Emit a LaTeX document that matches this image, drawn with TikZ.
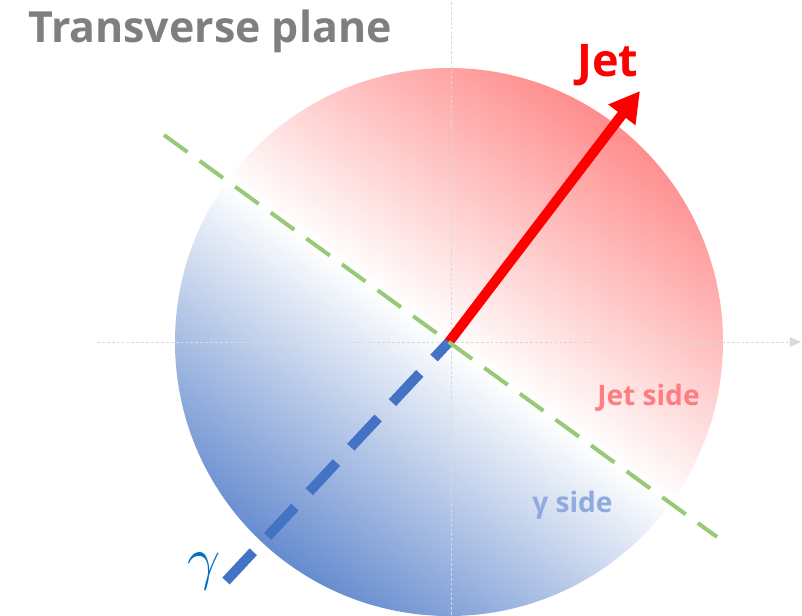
\RequirePackage{fix-cm}
\documentclass[tikz,border=0pt]{standalone}
\usepackage{fontspec}
\setmainfont{Open Sans}
\usepackage{tikz}
\usetikzlibrary{arrows.meta,calc}
\usepackage{xcolor}

\definecolor{jetred}{RGB}{255,0,0}
\definecolor{jetpink}{RGB}{255,124,128}
\definecolor{gblue}{RGB}{68,114,196}
\definecolor{gsoft}{RGB}{143,170,220}
\definecolor{gdeep}{RGB}{0,112,192}
\definecolor{cutgreen}{RGB}{150,202,118}
\definecolor{titlegray}{RGB}{127,127,127}

\begin{document}
\begin{tikzpicture}[
    title/.style={font=\fontsize{30.5}{36}\selectfont\bfseries, text=titlegray, inner sep=0pt, anchor=base west},
    sidelabel/.style={font=\fontsize{20}{24}\selectfont\bfseries, inner sep=0pt, anchor=base west},
    axis/.style={line width=0.6pt, gray!30, dash pattern=on 2pt off 1.5pt},
    jetarrow/.style={-{Triangle[length=0.75cm,width=0.8cm]}, line width=0.25cm, jetred},
    gammaline/.style={line width=0.25cm, gblue, dash pattern=on 1cm off 0.525cm},
    cutline/.style={line width=0.1cm, cutgreen, dash pattern=on 0.725cm off 0.375cm}
]

\def\rad{6.85}
\useasboundingbox (-11.225,-6.825) rectangle (8.825,8.55);
\fill[white] (-11.225,-6.825) rectangle (8.825,8.55);

\shade[top color=red!45, bottom color=gblue!82, middle color=white, shading angle=-36] (0,0) circle (\rad);

\coordinate (O) at (0,0);
\coordinate (xl) at (-8.8,0);
\coordinate (xr) at (8.8,0);
\coordinate (yt) at (0.05,8.55);
\coordinate (yb) at (0.05,-6.825);
\coordinate (jet) at (4.775,6.275);
\coordinate (gend) at (-5.575,-5.975);
\coordinate (cl) at (-7.125,5.175);
\coordinate (cr) at (6.7,-4.875);

\draw[axis, -{Triangle[length=0.28cm,width=0.24cm]}] (xl) -- (xr);
\draw[axis] (yb) -- (yt);

\draw[gammaline] (gend) -- (O);
\draw[jetarrow] (O) -- (jet);
\draw[cutline] (cl) -- (cr);

\node[title] (ttl) at (-10.525,7.5) {Transverse plane};
\node[font=\fontsize{32}{38}\selectfont\bfseries, text=jetred, inner sep=0pt, anchor=base] (jetlbl) at (3.975,6.625) {Jet};
\node[sidelabel, text=jetpink] (jside) at (3.7,-1.575) {Jet side};
\node[sidelabel, text=gsoft] (gside) at (2.075,-4.25) {γ side};
\node[font=\fontsize{42}{48}\selectfont, text=gdeep, inner sep=0pt, anchor=base] (glbl) at (-6.125,-5.9) {$\gamma$};
\end{tikzpicture}
\end{document}
